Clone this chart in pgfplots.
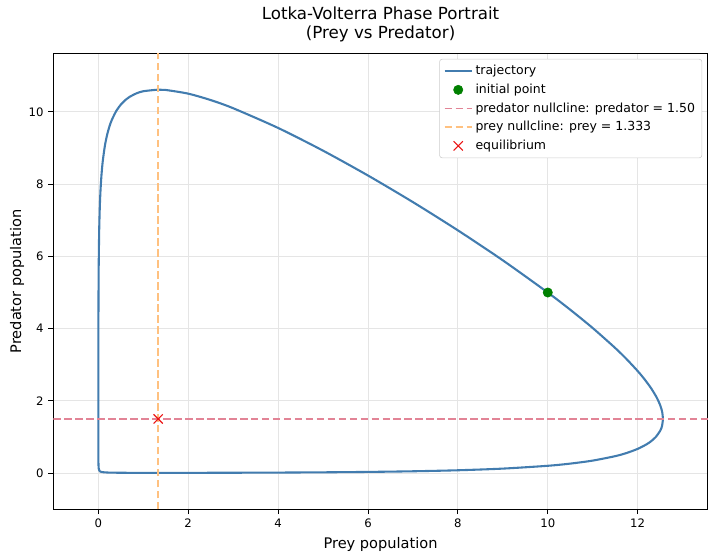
\documentclass[border=0pt]{standalone}
\usepackage{pgfplots}
\pgfplotsset{compat=1.18}
\usepackage{fontspec}
\setmainfont{DejaVu Sans}

\definecolor{trajblue}{RGB}{66,124,175}
\definecolor{predline}{RGB}{226,132,150}
\definecolor{preyline}{RGB}{255,193,128}
\definecolor{eqred}{RGB}{235,20,20}
\definecolor{initgreen}{RGB}{0,128,0}

\begin{document}
\begin{tikzpicture}
\path[use as bounding box] (-38.4pt,-36.5pt) rectangle (480pt,366.7pt);
\begin{axis}[
  at={(0,0)}, anchor=south west,
  scale only axis,
  width=471.2pt, height=328.3pt,
  xmin=-1, xmax=13.56,
  ymin=-1, ymax=11.62,
  xtick={0,2,4,6,8,10,12},
  ytick={0,2,4,6,8,10},
  xtick pos=bottom, ytick pos=left,
  tick align=outside,
  major tick length=3.5pt,
  every tick/.style={black, line width=0.6pt},
  axis line style={line width=0.8pt},
  tick label style={font=\fontsize{8.4}{9}\selectfont},
  /pgf/number format/assume math mode=true,
  grid=major,
  major grid style={gray!20, line width=0.6pt},
  title={Lotka-Volterra Phase Portrait\\(Prey vs Predator)},
  title style={font=\fontsize{12}{13.5}\selectfont, align=center, yshift=-1pt},
  xlabel={Prey population},
  ylabel={Predator population},
  label style={font=\fontsize{10.5}{12}\selectfont},
  ylabel style={yshift=-3.5pt},
  legend style={
    at={(1,1)}, anchor=north east, xshift=-4pt, yshift=-4pt,
    font=\fontsize{9}{10}\selectfont,
    draw=black!20, fill=white,
    rounded corners=2pt, row sep=1.1pt,
    inner xsep=3pt, inner ysep=2.5pt,
  },
  legend cell align=left,
  legend image code/.code={
    \draw[mark repeat=2, mark phase=2, #1]
      plot coordinates {(0pt,0pt) (9.7pt,0pt) (19.4pt,0pt)};
  },
]

% closed orbit through the initial state (10, 5)
\addplot[trajblue, line width=1.5pt, smooth, tension=0.45] coordinates {
(12.563,1.5) (12.5447,1.7) (12.5,1.8844) (12.4207,2.1) (12.3,2.3486)
(12.152,2.6) (12,2.827) (11.75,3.161) (11.5,3.4644) (11,4.017)
(10.5,4.5236) (10,5) (9,5.8905) (8,6.7204) (7,7.502)
(6,8.2382) (5,8.9262) (4,9.5552) (3,10.1008) (2.5,10.3266)
(2,10.504) (1.5,10.6059) (1.3333,10.6142) (1,10.5703) (0.85,10.512)
(0.7,10.4167) (0.6,10.3242) (0.5,10.1985) (0.4,10.0245) (0.3,9.7739)
(0.25,9.6025) (0.2,9.382) (0.15,9.0834) (0.1,8.6403) (0.07,8.2339)
(0.05,7.8386) (0.035,7.4085) (0.02,6.7121) (0.01,5.81) (0.007,5.3247)
(0.005,4.8497) (0.003,4.0816) (0.002,3.405) (0.0015,2.8515) (0.0012,2.318)
(0.00105,1.83) (0.001017,1.5) (0.00105,1.2124) (0.0012,0.9017) (0.0015,0.6627)
(0.002,0.4866) (0.003,0.336) (0.005,0.2217) (0.007,0.1714) (0.01,0.1319)
(0.02,0.0807) (0.035,0.0551) (0.05,0.0434) (0.07,0.0348) (0.1,0.0277)
(0.15,0.0216) (0.2,0.0183) (0.3,0.0146) (0.5,0.0115) (0.7,0.0101)
(1,0.0093) (1.3333,0.0090) (2,0.0096) (3,0.0121) (4,0.0165)
(5,0.0236) (6,0.0347) (7,0.0523) (8,0.0803) (9,0.1263)
(10,0.2044) (10.5,0.2644) (11,0.3481) (11.5,0.4709) (11.75,0.5571)
(12,0.672) (12.2,0.8) (12.3,0.8856) (12.4014,1.0) (12.5,1.1718)
(12.5411,1.3) (12.563,1.5)
};
\addlegendentry{trajectory}

\addplot[only marks, mark=*, mark size=3.35pt, color=initgreen] coordinates {(10,5)};
\addlegendentry{initial point}

\addplot[predline, line width=1.3pt, dash pattern=on 5.5pt off 2.4pt] coordinates {(-1,1.5) (13.56,1.5)};
\addlegendentry{predator nullcline: predator = 1.50}

\addplot[preyline, line width=1.3pt, dash pattern=on 5.5pt off 2.4pt] coordinates {(1.3333,-1) (1.3333,11.62)};
\addlegendentry{prey nullcline: prey = 1.333}

\addplot[only marks, mark=x, mark size=4.7pt, color=eqred, line width=0.8pt] coordinates {(1.3333,1.5)};
\addlegendentry{equilibrium}

\end{axis}
\end{tikzpicture}
\end{document}
